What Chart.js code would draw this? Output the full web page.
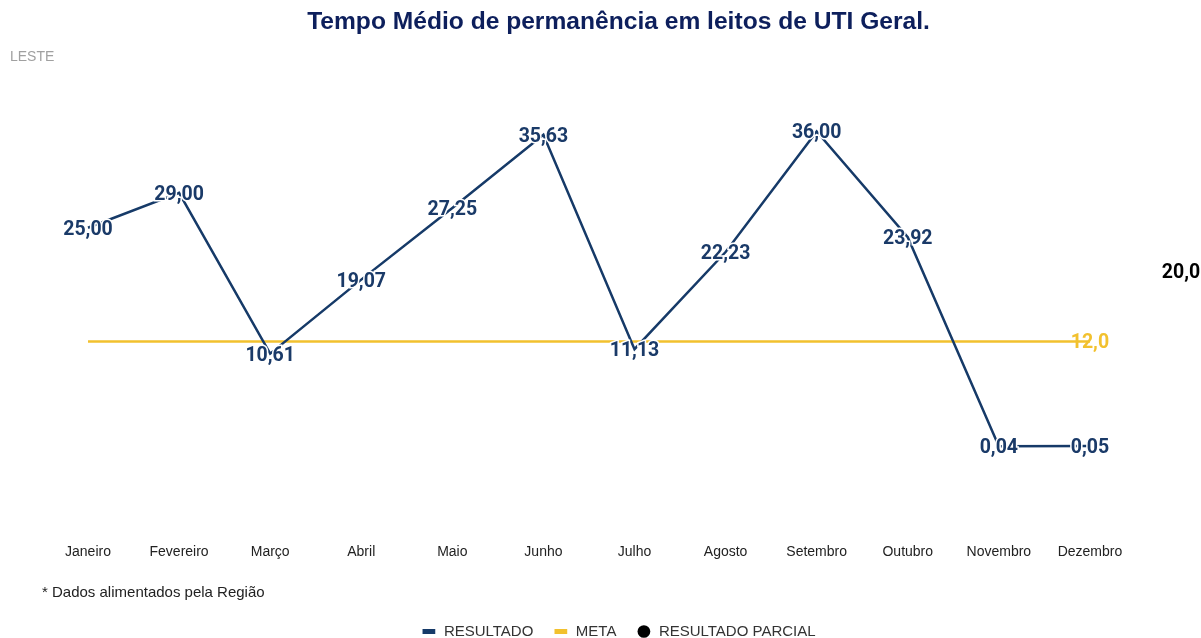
<!DOCTYPE html>
<html>
<head>
<meta charset="utf-8">
<script src="https://cdn.jsdelivr.net/npm/chart.js@4"></script>
<style>
  html, body { margin: 0; padding: 0; background: #fff; }
  .wrap { position: relative; width: 1201px; height: 638px; }
  .region { position: absolute; left: 10px; top: 48px; font: 14px 'Liberation Sans', Arial, sans-serif; color: #a0a0a0; }
  .note { position: absolute; left: 42px; top: 583px; font: 15px 'Liberation Sans', Arial, sans-serif; color: #222; }
</style>
</head>
<body>
<div class="wrap">
  <canvas id="chart" width="1201" height="638"></canvas>
  <div class="region">LESTE</div>
  <div class="note">* Dados alimentados pela Região</div>
</div>
<script>
// meses (13a posicao = resultado parcial, sem rotulo)
const months = ['Janeiro', 'Fevereiro', 'Março', 'Abril', 'Maio', 'Junho', 'Julho',
  'Agosto', 'Setembro', 'Outubro', 'Novembro', 'Dezembro', ''];
const resultado = [25.00, 29.00, 10.61, 19.07, 27.25, 35.63, 11.13, 22.23, 36.00, 23.92, 0.04, 0.05, null];
const meta = [12, 12, 12, 12, 12, 12, 12, 12, 12, 12, 12, 12, null];
const parcial = [null, null, null, null, null, null, null, null, null, null, null, null, 20.0];

const navy = '#163a68';
const yellow = '#f2c12e';

const fmt = (v, d) => v.toFixed(d).replace('.', ',');

// rotulos dos pontos
const labelsPlugin = {
  id: 'pointLabels',
  afterDatasetsDraw(chart) {
    const ctx = chart.ctx;
    ctx.save();
    ctx.font = 'bold 19.5px Roboto';
    ctx.textAlign = 'center';
    ctx.textBaseline = 'middle';
    chart.data.datasets.forEach((ds, i) => {
      const meta = chart.getDatasetMeta(i);
      meta.data.forEach((pt, j) => {
        const v = ds.data[j];
        if (v == null) return;
        if (ds.labelAt != null && ds.labelAt !== j) return;
        const txt = fmt(v, ds.decimals);
        const y = pt.y + 2;
        if (ds.halo) {
          ctx.lineWidth = 3;
          ctx.strokeStyle = '#fff';
          ctx.strokeText(txt, pt.x, y);
        }
        ctx.fillStyle = ds.labelColor;
        ctx.fillText(txt, pt.x, y);
      });
    });
    ctx.restore();
  }
};

// empurra a legenda para baixo
const legendShift = {
  id: 'legendShift',
  afterLayout(chart) {
    chart.legend.top += 11;
    chart.legend.bottom += 11;
  }
};

new Chart(document.getElementById('chart'), {
  type: 'line',
  data: {
    labels: months,
    datasets: [
      {
        label: 'RESULTADO',
        data: resultado,
        borderColor: navy,
        backgroundColor: navy,
        borderWidth: 2.5,
        pointRadius: 0,
        tension: 0,
        decimals: 2,
        halo: true,
        labelColor: '#1a3a68',
      },
      {
        label: 'META',
        data: meta,
        borderColor: yellow,
        backgroundColor: yellow,
        borderWidth: 2.5,
        pointRadius: 0,
        decimals: 1,
        labelAt: 11,
        halo: false,
        labelColor: yellow,
      },
      {
        label: 'RESULTADO PARCIAL',
        data: parcial,
        borderColor: '#000',
        backgroundColor: '#000',
        pointRadius: 0,
        showLine: false,
        decimals: 1,
        halo: false,
        labelColor: '#000',
      },
    ],
  },
  options: {
    responsive: false,
    animation: false,
    layout: { padding: { left: 56, right: 20, top: 0, bottom: 0 } },
    plugins: {
      title: {
        display: true,
        text: 'Tempo Médio de permanência em leitos de UTI Geral.',
        color: '#0d1f5c',
        font: { family: 'Liberation Sans', size: 24.6, weight: 'bold' },
        padding: { top: 7, bottom: 60 },
      },
      legend: {
        position: 'bottom',
        labels: {
          usePointStyle: true,
          boxHeight: 9,
          padding: 20,
          color: '#333',
          font: { family: 'Liberation Sans', size: 15 },
          generateLabels(chart) {
            const items = Chart.defaults.plugins.legend.labels.generateLabels(chart);
            return items.map((it, i) => {
              if (i < 2) {
                it.pointStyle = 'line';
                it.lineWidth = 5;
                it.strokeStyle = i === 0 ? navy : yellow;
              } else {
                it.pointStyle = 'circle';
                it.fillStyle = '#000';
                it.strokeStyle = '#000';
                it.lineWidth = 0;
              }
              return it;
            });
          },
        },
      },
      tooltip: { enabled: false },
    },
    scales: {
      x: {
        grid: { display: false, drawTicks: false },
        border: { display: false },
        ticks: {
          autoSkip: false,
          maxRotation: 0,
          padding: 10,
          color: '#222',
          font: { family: 'Liberation Sans', size: 14 },
        },
        afterFit(scale) { scale.height = 59; },
      },
      y: {
        min: -10,
        max: 40,
        grid: { display: false },
        border: { display: false },
        ticks: { display: false },
        afterFit(scale) { scale.width = 32; },
      },
    },
  },
  plugins: [labelsPlugin, legendShift],
});
</script>
</body>
</html>
